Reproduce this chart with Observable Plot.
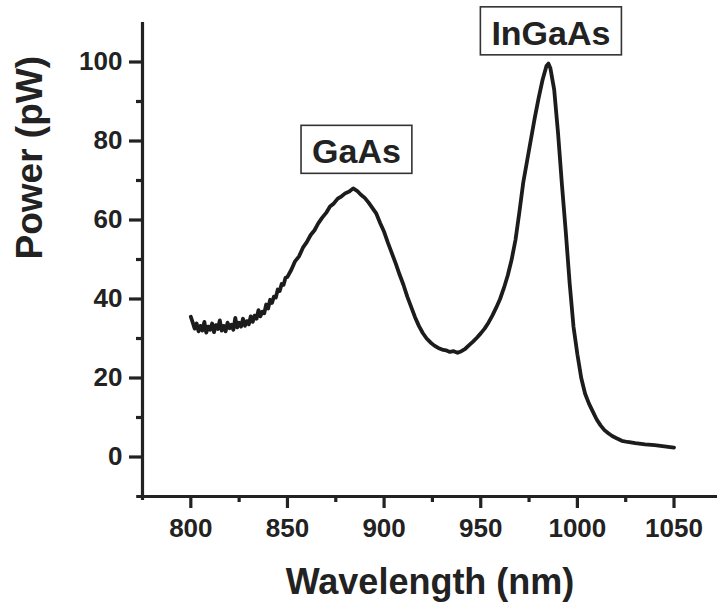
<!DOCTYPE html>
<html>
<head>
<meta charset="utf-8">
<script src="https://cdn.jsdelivr.net/npm/d3@7"></script>
<script src="https://cdn.jsdelivr.net/npm/@observablehq/plot@0.6"></script>
<style>
  html, body { margin: 0; padding: 0; background: #fff; }
  #chart svg text { font-weight: bold; }
</style>
</head>
<body>
<div id="chart"></div>
<script>
// Wavelength (nm)
const wavelength = [
  800,801,802,803,804,805,806,807,808,809,810,811,812,813,814,815,816,817,818,819,
  820,821,822,823,824,825,826,827,828,829,830,831,832,833,834,835,836,837,838,839,
  840,841,842,843,844,845,846,847,848,849,850,852,854,856,858,860,862,864,866,868,
  870,872,874,876,878,880,882,884,886,888,890,892,894,896,898,900,902,904,906,908,
  910,912,914,916,918,920,922,924,926,928,930,932,934,936,938,940,942,944,946,948,
  950,952,954,956,958,960,962,964,966,968,970,972,974,976,978,980,982,984,985,986,
  988,990,992,994,996,998,1000,1002,1004,1006,1008,1010,1012,1014,1016,1018,1020,1023,1026,1030,
  1035,1040,1045,1050
];
// Power (pW)
const power = [
  35.5,34,32.5,33.8,31.8,33.2,32,34.2,31.5,33,32.2,33.8,31.6,33.4,32.4,34.6,32,33.2,31.8,34,
  32.6,33.5,32.2,35.2,32.8,34,33,35,33.2,34.4,33.6,35.6,34.2,35.8,35,37.2,35.6,36.8,36.4,38.6,
  37.6,39.8,39,40.6,40.4,42.4,42,43.8,43.6,45.4,45.6,47.4,49.6,50.8,53,54.4,56.2,57.4,59.2,60.6,
  61.8,63.4,64.2,65.4,66,66.8,67.2,68,67.4,66.4,65.6,64.4,63,61.6,59.2,57,54.2,51.6,49,46.2,
  43.6,40.6,38,35.4,33.2,31.4,30,29,28.2,27.6,27.2,27,26.6,26.8,26.4,26.8,27.4,28.3,29.2,30.2,
  31.3,32.5,34,35.8,37.8,40,42.8,46,50,55,62,69.5,75,80.5,86,91,95.5,99,99.6,98.5,
  93,82,69,57,44,33,26,20,16,13.5,11.5,9.5,8,6.8,6,5.3,4.8,4.1,3.8,3.5,
  3.2,3,2.7,2.4
];
// Axis ticks
const xMajorTicks = [800, 850, 900, 950, 1000, 1050];
const xMinorTicks = [825, 875, 925, 975, 1025];
const yMajorTicks = [0, 20, 40, 60, 80, 100];
const yMinorTicks = [10, 30, 50, 70, 90];
// Annotations
const labels = ["GaAs", "InGaAs"];
const labelX = [885.7, 986.3];
const labelY = [77.1, 107.1];

const data = wavelength.map((w, i) => ({w, p: power[i]}));
const notes = labels.map((t, i) => ({t, x: labelX[i], y: labelY[i]}));

const ink = "#222";
const plot = Plot.plot({
  width: 717,
  height: 603,
  marginLeft: 142,
  marginRight: 0,
  marginTop: 22,
  marginBottom: 107,
  x: {domain: [775, 1072.5]},
  y: {domain: [-10, 110]},
  style: {fontFamily: "'Liberation Sans', Arial, sans-serif", color: ink, background: "#fff"},
  marks: [
    Plot.axisX({ticks: xMajorTicks, tickSize: 12, tickPadding: 10, tickFormat: d => String(d), fontSize: 26, fontWeight: "bold", stroke: ink, strokeWidth: 3.2, label: null}),
    Plot.axisX({ticks: xMinorTicks, tickSize: 6, tickFormat: () => "", stroke: ink, strokeWidth: 3.2, label: null}),
    Plot.axisY({ticks: yMajorTicks, tickSize: 13, tickPadding: 7, tickFormat: d => String(d), fontSize: 26, fontWeight: "bold", stroke: ink, strokeWidth: 3.2, label: null}),
    Plot.axisY({ticks: yMinorTicks, tickSize: 6, tickFormat: () => "", stroke: ink, strokeWidth: 3.2, label: null}),
    Plot.ruleX([775], {y1: -11, y2: 110, stroke: ink, strokeWidth: 3.2}),
    Plot.ruleY([-10], {x1: 772, x2: 1072.5, stroke: ink, strokeWidth: 3.2}),
    Plot.line(data, {x: "w", y: "p", stroke: "#1c1c1c", strokeWidth: 3.8, strokeLinejoin: "round", strokeLinecap: "round"}),
    Plot.text(notes, {x: "x", y: "y", text: "t", fontSize: 34, fontWeight: "bold", fill: ink, lineAnchor: "middle"}),
    Plot.text(["Wavelength (nm)"], {frameAnchor: "bottom", dy: 97, lineAnchor: "bottom", fontSize: 36, fontWeight: "bold", fill: ink}),
    Plot.text(["Power (pW)"], {frameAnchor: "left", dx: -101, rotate: -90, lineAnchor: "bottom", fontSize: 37, fontWeight: "bold", fill: ink})
  ]
});
document.getElementById("chart").appendChild(plot);

// Draw boxes around the annotation labels
plot.querySelectorAll("text").forEach(el => {
  if (labels.includes(el.textContent)) {
    const bb = el.getBBox();
    const tr = el.getAttribute("transform");
    const rect = document.createElementNS("http://www.w3.org/2000/svg", "rect");
    rect.setAttribute("x", bb.x - 11);
    rect.setAttribute("y", bb.y - 7);
    rect.setAttribute("width", bb.width + 22);
    rect.setAttribute("height", bb.height + 10);
    rect.setAttribute("fill", "none");
    rect.setAttribute("stroke", "#333");
    rect.setAttribute("stroke-width", 1.6);
    if (tr) rect.setAttribute("transform", tr);
    el.parentNode.insertBefore(rect, el);
  }
});
</script>
</body>
</html>
